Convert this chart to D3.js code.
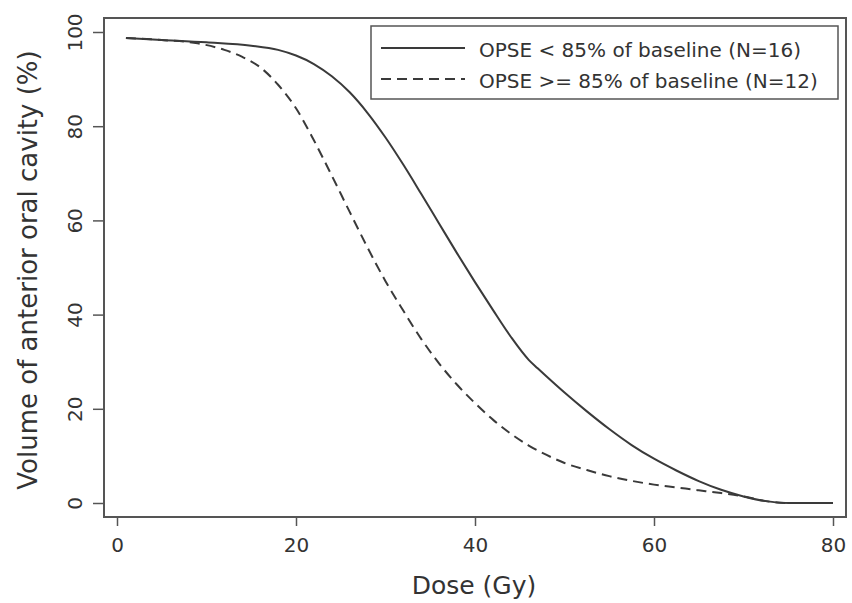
<html>
<head>
  <script src="https://d3js.org/d3.v7.min.js"></script>
  <style>
    body { margin: 0; padding: 0; background: #fff; }
    svg text { fill: #333; font-family: "DejaVu Sans", Verdana, sans-serif; }
  </style>
</head>
<body>
<div id="chart"></div>
<script>
// OPSE < 85% of baseline (solid)
const doseLow = [1, 5, 10, 15, 18, 20, 22, 24, 26, 28, 30, 32, 34, 36, 38, 40, 42, 44, 46, 47, 48, 50, 52.5, 55, 57.5, 60, 62.5, 65, 67.5, 70, 72.5, 75, 80];
const volLow  = [98.7, 98.3, 97.8, 97.1, 96.2, 95, 93.2, 90.6, 87.2, 82.8, 77.6, 71.8, 65.6, 59.3, 53, 46.9, 41, 35.3, 30.4, 28.6, 26.85, 23.45, 19.45, 15.7, 12.3, 9.4, 6.9, 4.65, 2.8, 1.4, 0.4, 0, 0];
// OPSE >= 85% of baseline (dashed)
const doseHigh = [1, 5, 9, 12, 14, 16, 18, 20, 22, 24, 26, 28, 30, 32, 34, 36, 38, 40, 42, 44, 46, 48, 50, 52.5, 55, 57.5, 60, 62.5, 65, 67.5, 70, 72.5, 75, 80];
const volHigh  = [98.7, 98.3, 97.6, 96.2, 94.7, 92.5, 88.8, 83.8, 77, 69.5, 61.8, 54.2, 47.1, 40.8, 34.8, 29.6, 25.1, 21.2, 17.7, 14.7, 12.2, 10.2, 8.5, 7.0, 5.7, 4.7, 3.9, 3.3, 2.7, 2.1, 1.4, 0.4, 0, 0];

const xTicks = [0, 20, 40, 60, 80];
const yTicks = [0, 20, 40, 60, 80, 100];
const legendLabels = ["OPSE < 85% of baseline (N=16)", "OPSE >= 85% of baseline (N=12)"];

const width = 852, height = 603;
const frame = { left: 104, right: 846, top: 18, bottom: 517 };
const ink = "#3a3a3a";

const svg = d3.select("#chart").append("svg")
  .attr("width", width)
  .attr("height", height);

const x = d3.scaleLinear().domain([0, 80]).range([117, 833]);
const y = d3.scaleLinear().domain([0, 100]).range([503, 32]);

// plot frame
svg.append("rect")
  .attr("x", frame.left).attr("y", frame.top)
  .attr("width", frame.right - frame.left)
  .attr("height", frame.bottom - frame.top)
  .attr("fill", "none")
  .attr("stroke", "#555")
  .attr("stroke-width", 2);

// y axis
const yAxis = svg.append("g")
  .attr("transform", `translate(${frame.left},0)`)
  .call(d3.axisLeft(y).tickValues(yTicks).tickSize(11).tickSizeOuter(0));
yAxis.select(".domain").remove();
yAxis.selectAll(".tick line").attr("stroke", "#555").attr("stroke-width", 1.5);
yAxis.selectAll(".tick text")
  .attr("x", null).attr("dy", null)
  .attr("text-anchor", "middle")
  .attr("transform", "translate(-22,0) rotate(-90)")
  .style("font-family", "DejaVu Sans, Verdana, sans-serif")
  .style("font-size", "20px")
  .style("fill", "#333");

// x axis
const xAxis = svg.append("g")
  .attr("transform", `translate(0,${frame.bottom})`)
  .call(d3.axisBottom(x).tickValues(xTicks).tickSize(9).tickSizeOuter(0));
xAxis.select(".domain").remove();
xAxis.selectAll(".tick line").attr("stroke", "#555").attr("stroke-width", 1.5);
xAxis.selectAll(".tick text")
  .attr("y", 35).attr("dy", null)
  .style("font-family", "DejaVu Sans, Verdana, sans-serif")
  .style("font-size", "20px")
  .style("fill", "#333");

// axis titles
svg.append("text")
  .attr("x", 474).attr("y", 594)
  .attr("text-anchor", "middle")
  .style("font-size", "25px")
  .text("Dose (Gy)");

svg.append("text")
  .attr("transform", "translate(37,270) rotate(-90)")
  .attr("text-anchor", "middle")
  .style("font-size", "26px")
  .text("Volume of anterior oral cavity (%)");

// curves
const line = d3.line()
  .x(d => x(d[0]))
  .y(d => y(d[1]))
  .curve(d3.curveMonotoneX);

svg.append("path")
  .datum(d3.zip(doseHigh, volHigh))
  .attr("d", line)
  .attr("fill", "none")
  .attr("stroke", ink)
  .attr("stroke-width", 2)
  .attr("stroke-dasharray", "10,6");

svg.append("path")
  .datum(d3.zip(doseLow, volLow))
  .attr("d", line)
  .attr("fill", "none")
  .attr("stroke", ink)
  .attr("stroke-width", 2);

// legend
const legend = svg.append("g");
legend.append("rect")
  .attr("x", 371).attr("y", 26)
  .attr("width", 838 - 371).attr("height", 99 - 26)
  .attr("fill", "#fff")
  .attr("stroke", "#555")
  .attr("stroke-width", 1.5);

const rows = [
  { label: legendLabels[0], dash: null, y: 48 },
  { label: legendLabels[1], dash: "10,6", y: 79 }
];
rows.forEach(r => {
  legend.append("line")
    .attr("x1", 381).attr("x2", 465)
    .attr("y1", r.y).attr("y2", r.y)
    .attr("stroke", ink)
    .attr("stroke-width", 2)
    .attr("stroke-dasharray", r.dash);
  legend.append("text")
    .attr("x", 479).attr("y", r.y + 9)
    .style("font-size", "20px")
    .text(r.label);
});
</script>
</body>
</html>
